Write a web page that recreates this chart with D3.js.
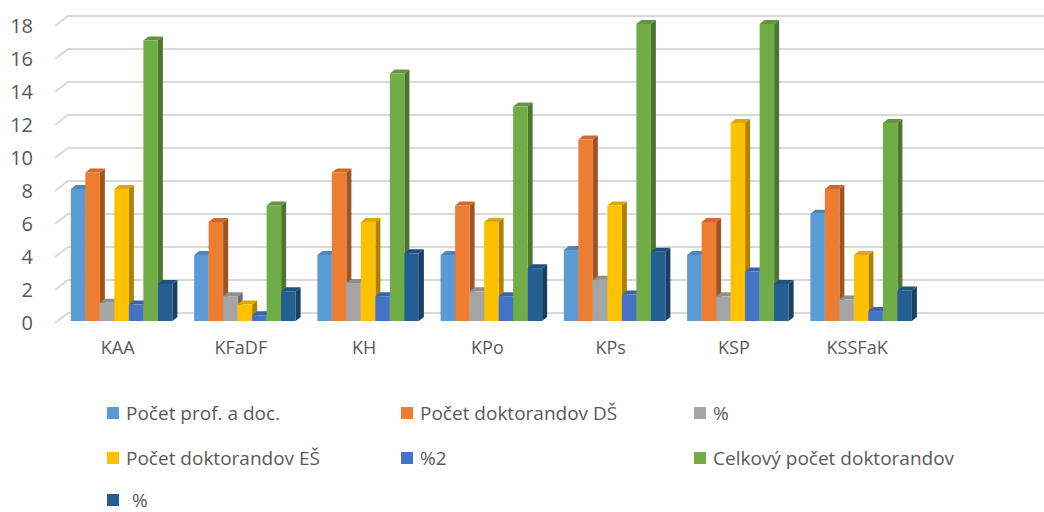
<!DOCTYPE html>
<html>
<head>
<meta charset="utf-8">
<script src="https://cdn.jsdelivr.net/npm/d3@7"></script>
<style>
  body { margin: 0; background: #fff; }
  text { font-family: "Open Sans", sans-serif; fill: #595959; }
</style>
</head>
<body>
<div id="chart"></div>
<script>
(function(){
  'use strict';

  // data
  var categories = ['KAA', 'KFaDF', 'KH', 'KPo', 'KPs', 'KSP', 'KSSFaK', ''];
  var seriesNames = ['Počet prof. a doc.', 'Počet doktorandov DŠ', '%', 'Počet doktorandov EŠ', '%2', 'Celkový počet doktorandov', '%'];
  var profDoc   = [8, 4, 4, 4, 4.3, 4, 6.5];
  var dokDS     = [9, 6, 9, 7, 11, 6, 8];
  var pct1      = [1.1, 1.5, 2.3, 1.8, 2.5, 1.5, 1.3];
  var dokES     = [8, 1, 6, 6, 7, 12, 4];
  var pct2      = [1, 0.35, 1.5, 1.5, 1.6, 3, 0.6];
  var dokTotal  = [17, 7, 15, 13, 18, 18, 12];
  var pct3      = [2.25, 1.8, 4.1, 3.2, 4.2, 2.25, 1.85];
  var yTicks    = [0, 2, 4, 6, 8, 10, 12, 14, 16, 18];

  var seriesValues = [profDoc, dokDS, pct1, dokES, pct2, dokTotal, pct3];
  var colors = ['#5B9BD5', '#ED7D31', '#A5A5A5', '#FFC000', '#4472C4', '#70AD47', '#255E91'];

  var W = 1044, H = 512,
      dx = 5, dy = 4;      // 3d depth of the bars

  var svg = d3.select('#chart').append('svg')
    .attr('width', W)
    .attr('height', H);

  var x = d3.scaleBand()
    .domain(categories)
    .range([60, 1046]);

  var barW = 14.5;
  var xInner = d3.scaleBand()
    .domain(d3.range(seriesNames.length))
    .range([0, barW * seriesNames.length]);

  var y = d3.scaleLinear()
    .domain([0, 18])
    .range([321, 24]);

  // gridlines with the slanted wall edge
  var grid = svg.append('g');
  yTicks.forEach(function(t) {
    grid.append('polyline')
      .attr('points', [[55, y(t) + 2], [68, y(t) - 8], [W, y(t) - 8]].join(' '))
      .attr('fill', 'none')
      .attr('stroke', '#d9d9d9')
      .attr('stroke-width', 2);
  });

  // y axis labels
  var yAxis = d3.axisLeft(y)
    .tickValues(yTicks)
    .tickSize(0)
    .tickPadding(0);

  var yg = svg.append('g')
    .attr('transform', 'translate(33, 2.5)')
    .call(yAxis);
  yg.select('.domain').remove();
  yg.selectAll('text')
    .attr('font-size', 20)
    .attr('font-family', '"Open Sans", sans-serif')
    .style('fill', '#595959');

  // x axis labels
  var xAxis = d3.axisBottom(x).tickSize(0).tickPadding(0);
  var xg = svg.append('g')
    .attr('transform', 'translate(-4, 341)')
    .call(xAxis);
  xg.select('.domain').remove();
  xg.selectAll('text')
    .attr('font-size', 18)
    .attr('font-family', '"Open Sans", sans-serif')
    .style('fill', '#595959');

  // bars
  var groups = svg.selectAll('.cat')
    .data(categories.slice(0, 7))
    .enter()
    .append('g')
    .attr('class', 'cat')
    .attr('transform', function(d) {
      return 'translate(' + (x(d) + (x.bandwidth() - xInner.range()[1]) / 2) + ',0)';
    });

  groups.each(function(cat, ci) {
    var g = d3.select(this);
    seriesValues.forEach(function(vals, si) {
      var v = vals[ci],
          x0 = xInner(si),
          x1 = x0 + barW,
          yt = y(v),
          yb = y(0),
          c = d3.color(colors[si]);

      // side
      g.append('polygon')
        .attr('points', [[x1, yb], [x1 + dx, yb - dy], [x1 + dx, yt - dy], [x1, yt]].join(' '))
        .attr('fill', c.darker(1.1));
      // top
      g.append('polygon')
        .attr('points', [[x0, yt], [x0 + dx, yt - dy], [x1 + dx, yt - dy], [x1, yt]].join(' '))
        .attr('fill', c.darker(0.4));
      // front
      g.append('rect')
        .attr('x', x0)
        .attr('y', yt)
        .attr('width', barW)
        .attr('height', yb - yt)
        .attr('fill', colors[si]);
    });
  });

  // legend
  var legendX = [107, 401, 694],
      legendY = [413, 458, 500];

  var legend = svg.selectAll('.legend')
    .data(seriesNames)
    .enter()
    .append('g')
    .attr('class', 'legend')
    .attr('transform', function(d, i) {
      return 'translate(' + legendX[i % 3] + ',' + legendY[Math.floor(i / 3)] + ')';
    });

  legend.append('rect')
    .attr('x', 0)
    .attr('y', -6)
    .attr('width', 12)
    .attr('height', 12)
    .attr('fill', function(d, i) { return colors[i]; });

  // last entry has a leading space in the original name
  legend.append('text')
    .attr('x', function(d, i) { return i === 6 ? 25 : 19; })
    .attr('y', 0)
    .attr('dy', '0.35em')
    .attr('font-size', 19)
    .text(function(d) { return d; });

}());
</script>
</body>
</html>
